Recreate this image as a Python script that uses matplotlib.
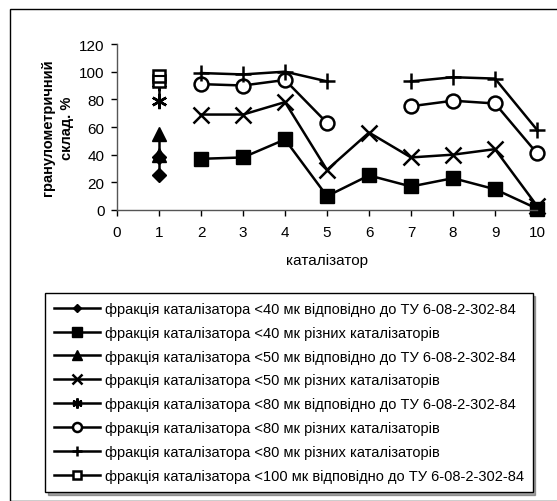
import matplotlib
matplotlib.use("Agg")
import matplotlib.pyplot as plt
from matplotlib.patches import Rectangle
import numpy as np

plt.rcParams['font.family'] = ['Liberation Sans', 'DejaVu Sans']

# Data
x_tu = [1, 1]
d40_tu = [25, 38]
d50_tu = [40, 55]
d80_tu = [79, 92]
d100_tu = [93, 97]

x_all = [2, 3, 4, 5, 6, 7, 8, 9, 10]
d40 = [37, 38, 51, 10, 25, 17, 23, 15, 1]
d50 = [69, 69, 78, 29, 56, 38, 40, 44, 3]
x_gap = [2, 3, 4, 5, 6, 7, 8, 9, 10]
d80a = [91, 90, 94, 63, np.nan, 75, 79, 77, 41]
d80b = [99, 98, 100, 93, np.nan, 93, 96, 95, 58]

labels = [
    "фракція каталізатора <40 мк відповідно до ТУ 6-08-2-302-84",
    "фракція каталізатора <40 мк різних каталізаторів",
    "фракція каталізатора <50 мк відповідно до ТУ 6-08-2-302-84",
    "фракція каталізатора <50 мк різних каталізаторів",
    "фракція каталізатора <80 мк відповідно до ТУ 6-08-2-302-84",
    "фракція каталізатора <80 мк різних каталізаторів",
    "фракція каталізатора <80 мк різних каталізаторів",
    "фракція каталізатора <100 мк відповідно до ТУ 6-08-2-302-84",
]
xticks = list(range(0, 11))
yticks = [0, 20, 40, 60, 80, 100, 120]

W, H = 557, 502
fig = plt.figure(figsize=(W / 100, H / 100), dpi=100)
ax = fig.add_axes([117 / W, 1 - 211 / H, (537 - 117) / W, (211 - 45) / H])

lw = 1.8
common = dict(color='black', linewidth=lw, markeredgecolor='black', clip_on=False)
h = []
h += ax.plot(x_tu, d40_tu, marker='D', markersize=7, markerfacecolor='black', label=labels[0], **common)
h += ax.plot(x_all, d40, marker='s', markersize=10, markerfacecolor='black', label=labels[1], **common)
h += ax.plot(x_tu, d50_tu, marker='^', markersize=10, markerfacecolor='black', label=labels[2], **common)
h += ax.plot(x_all, d50, marker='x', markersize=11, markeredgewidth=1.8, label=labels[3], **common)
h += ax.plot(x_tu, d80_tu, marker=(6, 2, 0), markersize=11, markeredgewidth=1.8, label=labels[4], **common)
h += ax.plot(x_gap, d80a, marker='o', markersize=10, markerfacecolor='white', markeredgewidth=1.8, label=labels[5], **common)
h += ax.plot(x_gap, d80b, marker='+', markersize=12, markeredgewidth=1.8, label=labels[6], **common)
h += ax.plot(x_tu, d100_tu, marker='s', markersize=9, markerfacecolor='white', markeredgewidth=1.8, label=labels[7], **common)
ax.plot(x_tu[-1:], d100_tu[-1:], marker='_', markersize=9, markeredgewidth=1.5, color='black', linestyle='none', clip_on=False)

ax.set_xlim(0, 10)
ax.set_ylim(0, 120)
ax.set_xticks(xticks)
ax.set_yticks(yticks)
for s in ['top', 'right']:
    ax.spines[s].set_visible(False)
for s in ['left', 'bottom']:
    ax.spines[s].set_color('#555555')
    ax.spines[s].set_linewidth(1.0)
ax.tick_params(direction='out', length=4, width=1, labelsize=11, colors='black')
ax.tick_params(axis='x', pad=7)
ax.tick_params(axis='y', pad=5)
ax.set_xlabel("каталізатор", fontsize=11, labelpad=10)
ax.set_ylabel("гранулометричний\nсклад. %", fontsize=10.5, fontweight='bold', linespacing=1.45)
ax.yaxis.set_label_coords((74 - 117) / 420, 0.5)

leg = fig.legend(handles=h, labels=labels, loc='upper left',
                 bbox_to_anchor=(45 / W, 1 - 294 / H), fontsize=10.5,
                 frameon=True, fancybox=False, shadow=True, edgecolor='black',
                 handlelength=3.2, handletextpad=0.3, labelspacing=0.68,
                 borderpad=0.6, borderaxespad=0, markerscale=0.65)
leg.get_frame().set_linewidth(1.0)

fig.patches.append(Rectangle((10 / W, 0), 1.2, 1 - 10 / H, transform=fig.transFigure,
                             fill=False, edgecolor='black', linewidth=1.0))

fig.savefig("out.png", dpi=100)
